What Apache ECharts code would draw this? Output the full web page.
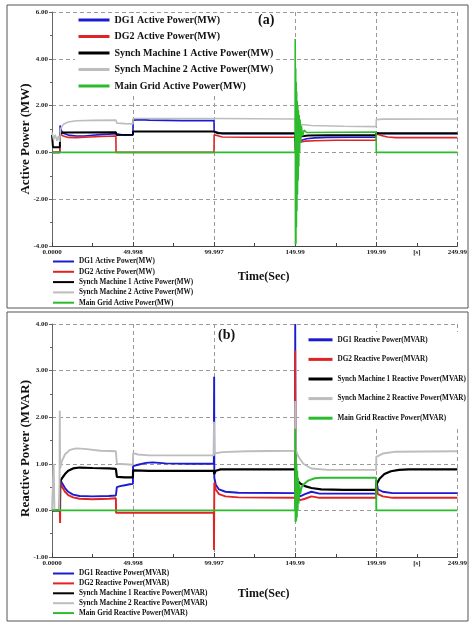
<!DOCTYPE html>
<html>
<head>
<meta charset="utf-8">
<script src="https://cdn.jsdelivr.net/npm/echarts@6/dist/echarts.min.js"></script>
<style>html,body{margin:0;padding:0;background:#fff}#c{width:470px;height:623px}</style>
</head>
<body>
<div id="c"></div>
<script>
// ---------- data ----------
const xTickLabels = {0:'0.0000',50:'49.998',100:'99.997',150:'149.99',200:'199.99',250:'249.99'};
const unitLabel = {225:'[s]'};

const namesA = ['DG1 Active Power(MW)','DG2 Active Power(MW)','Synch Machine 1 Active Power(MW)','Synch Machine 2 Active Power(MW)','Main Grid Active Power(MW)'];
const namesB = ['DG1 Reactive Power(MVAR)','DG2 Reactive Power(MVAR)','Synch Machine 1 Reactive Power(MVAR)','Synch Machine 2 Reactive Power(MVAR)','Main Grid Reactive Power(MVAR)'];

const dg1Active = [[0,0],[4.8,0],[5,1.15],[5.6,0.95],[7,0.82],[10,0.74],[15,0.7],[20,0.7],[25,0.73],[30,0.76],[35,0.78],[39.4,0.8],[40,0.72],[45,0.73],[49.9,0.74],[50,1.38],[55,1.4],[60,1.38],[70,1.37],[80,1.36],[99.9,1.36],[100,0.9],[101,0.82],[105,0.8],[149.9,0.8],[150,0.2],[150.5,0.4],[151,0.45],[153,0.5],[157,0.58],[162,0.62],[170,0.64],[185,0.65],[199.9,0.65],[200,0.85],[202,0.8],[210,0.8],[250,0.8]];
const dg2Active = [[0,0],[4.8,0],[5,0.78],[7,0.7],[10,0.64],[15,0.63],[20,0.65],[30,0.68],[39.4,0.7],[39.5,0],[99.9,0],[100,0.75],[101,0.7],[105,0.66],[120,0.65],[149.9,0.65],[150,0.1],[150.5,0.35],[152,0.42],[156,0.48],[162,0.5],[175,0.52],[199.9,0.52],[200,0.8],[203,0.72],[207,0.66],[212,0.63],[250,0.63]];
const sm1Active = [[0,0.75],[0.6,0.22],[4.8,0.22],[5,0.8],[7,0.85],[39.4,0.86],[40,0.74],[49.9,0.76],[50,0.9],[99.9,0.89],[100,0.85],[102,0.82],[149.9,0.82],[150,0.5],[151,0.62],[153,0.68],[158,0.72],[170,0.73],[199.9,0.73],[200,0.82],[250,0.82]];
const sm2Active = [[0,0.85],[1,0.55],[2,0.75],[3,0.5],[4,0.7],[4.8,0.45],[5.2,1.0],[7,1.2],[10,1.3],[15,1.35],[25,1.37],[39.4,1.38],[40,1.25],[45,1.23],[49.9,1.22],[50,1.45],[60,1.45],[99.9,1.45],[100,1.42],[149.9,1.43],[150,1.3],[152,1.2],[160,1.15],[180,1.12],[199.9,1.1],[200,1.4],[204,1.42],[250,1.43]];
const gridActive = [[0,0],[149.9,0],[150,4.85],[150.15,-3.95],[150.3,3.6],[150.45,-3.9],[150.6,3.0],[150.75,-3.2],[150.9,2.6],[151.05,-2.5],[151.2,2.2],[151.4,-1.8],[151.6,2.0],[151.8,-1.2],[152.0,1.8],[152.2,-0.6],[152.45,1.6],[152.7,0.0],[153.0,1.4],[153.4,0.4],[153.8,1.15],[154.5,0.7],[155.5,0.95],[157,0.85],[158,0.87],[199.9,0.87],[200,0],[250,0]];

const dg1Reactive = [[0,0],[4.8,0],[5,0.65],[6,0.6],[8,0.48],[10,0.4],[13,0.34],[17,0.31],[25,0.3],[35,0.31],[39.4,0.32],[40,0.5],[42,0.52],[45,0.54],[48,0.56],[49.9,0.57],[50,0.95],[53,0.98],[58,1.02],[62,1.03],[70,1.01],[85,1.0],[99.8,1.0],[100,2.87],[100.1,0.7],[101,0.55],[103,0.45],[107,0.4],[115,0.38],[149.9,0.37],[150,4.0],[150.2,0.1],[151,0.4],[153,0.3],[156,0.35],[160,0.4],[165,0.36],[199.9,0.36],[200,0.65],[201,0.45],[204,0.4],[210,0.37],[250,0.37]];
const dg2Reactive = [[0,0],[4.8,0],[5,-0.27],[5.2,0.6],[6,0.52],[8,0.4],[10,0.33],[13,0.28],[17,0.25],[25,0.24],[35,0.25],[39.4,0.26],[39.5,-0.05],[99.8,-0.05],[99.9,-0.85],[100.1,0.6],[101,0.45],[103,0.35],[107,0.3],[115,0.28],[149.9,0.27],[150,3.43],[150.2,0.05],[151,0.3],[153,0.22],[156,0.25],[160,0.3],[165,0.27],[199.9,0.27],[200,0.55],[201,0.35],[204,0.3],[210,0.27],[250,0.27]];
const sm1Reactive = [[0,0],[4.8,0],[5,0.62],[6,0.68],[8,0.78],[10,0.85],[13,0.9],[17,0.92],[25,0.91],[35,0.9],[39.4,0.89],[40,0.72],[45,0.71],[49.9,0.71],[50,0.86],[60,0.85],[99.8,0.85],[100,0.78],[101,0.85],[104,0.88],[149.9,0.88],[150,0.75],[151,0.65],[153,0.58],[156,0.52],[160,0.48],[166,0.45],[180,0.44],[199.9,0.44],[200,0.55],[202,0.68],[205,0.78],[209,0.84],[214,0.87],[220,0.88],[250,0.88]];
const sm2Reactive = [[0,0],[1,1.0],[1.5,0],[4.6,0],[4.8,2.14],[5,0.9],[6,1.05],[8,1.2],[11,1.3],[15,1.33],[20,1.32],[30,1.28],[39.4,1.27],[40,1.0],[45,0.99],[49.9,0.98],[50,1.23],[53,1.2],[60,1.18],[99.8,1.18],[99.9,1.9],[100.1,1.22],[105,1.25],[120,1.27],[149.9,1.28],[150,2.35],[150.3,1.3],[152,1.15],[155,1.0],[160,0.9],[170,0.87],[199.9,0.87],[200,1.15],[204,1.22],[212,1.26],[250,1.27]];
const gridReactive = [[0,0],[149.9,0],[150,1.75],[150.2,-0.25],[150.4,1.2],[150.6,-0.22],[150.8,1.0],[151.0,-0.15],[151.25,0.85],[151.5,0.0],[151.8,0.7],[152.1,0.15],[152.5,0.55],[153,0.35],[154,0.5],[155,0.55],[158,0.64],[162,0.69],[166,0.7],[199.9,0.7],[200,0],[250,0]];

// ---------- styling ----------
const colors = ['#1c1ccf','#e02424','#000000','#bdbdbd','#2cbb2c'];
const serif = "'Liberation Serif','Times New Roman',serif";
const gridDash = {show:true,lineStyle:{color:'#9a9a9a',type:[4,3],width:1}};

function xMain(gi, gap){
  return {type:'value',gridIndex:gi,min:0,max:250,interval:50,
    axisLine:{show:true,onZero:false,lineStyle:{color:'#444'}},
    axisTick:{show:true,inside:true,length:4,lineStyle:{color:'#444'}},
    minorTick:{show:true,splitNumber:2,length:3,lineStyle:{color:'#444'}},
    splitLine:gridDash,
    axisLabel:{margin:3,fontSize:7,fontWeight:'bold',fontFamily:serif,color:'#222',formatter:v=>xTickLabels[v]!==undefined?xTickLabels[v]:''},
    name:'Time(Sec)',nameLocation:'middle',nameGap:gap,
    nameTextStyle:{fontSize:12,fontWeight:'bold',fontFamily:serif,color:'#111',padding:[0,0,0,18]}};
}
function xUnit(gi){
  return {type:'value',gridIndex:gi,min:0,max:250,interval:25,position:'bottom',
    axisLine:{show:false},axisTick:{show:false},splitLine:{show:false},
    axisLabel:{margin:3,fontSize:7,fontWeight:'bold',fontFamily:serif,color:'#222',formatter:v=>unitLabel[v]||''}};
}
function yAx(gi,min,max,interval,name,gap,shift){
  return {type:'value',gridIndex:gi,min:min,max:max,interval:interval,
    axisLine:{show:true,onZero:false,lineStyle:{color:'#666'}},
    axisTick:{show:true,length:3,lineStyle:{color:'#666'}},
    minorTick:{show:true,splitNumber:2,length:2,lineStyle:{color:'#666'}},
    splitLine:gridDash,
    axisLabel:{margin:4,fontSize:7,fontWeight:'bold',fontFamily:serif,color:'#222',formatter:v=>v.toFixed(2)},
    name:name,nameLocation:'middle',nameGap:gap,nameMoveOverlap:false,
    nameTextStyle:{fontSize:13,fontWeight:'bold',fontFamily:serif,color:'#111',padding:[0,shift,0,0]}};
}
function mkSeries(names,datas,xi,yi,w){
  return names.map((n,i)=>({name:n,type:'line',xAxisIndex:xi,yAxisIndex:yi,data:datas[i],
    symbol:'none',animation:false,lineStyle:{color:colors[i],width:(i===2?w+0.3:w)},itemStyle:{color:colors[i]}}));
}
function legend(names,left,top,iw,ih,gap,fs,lw,pad,bg){
  return {data:names,orient:'vertical',left:left,top:top,height:100,padding:pad,itemWidth:iw,itemHeight:ih,itemGap:gap,
    backgroundColor:bg,selectedMode:false,lineStyle:{width:lw},itemStyle:{opacity:0,borderWidth:0},
    textStyle:{fontSize:fs,fontWeight:'bold',fontFamily:serif,color:'#111'}};
}

const chart = echarts.init(document.getElementById('c'),null,{renderer:'canvas'});
chart.setOption({
  backgroundColor:'#fff',
  animation:false,
  color:colors,
  title:[
    {text:'(a)',left:258,top:13,padding:0,textStyle:{fontSize:14,fontWeight:'bold',fontFamily:serif,color:'#111'}},
    {text:'(b)',left:218,top:328,padding:0,textStyle:{fontSize:14,fontWeight:'bold',fontFamily:serif,color:'#111'}}
  ],
  graphic:[
    {type:'rect',shape:{x:7,y:5,width:461,height:303},style:{fill:null,stroke:'#555',lineWidth:1},silent:true,z:10},
    {type:'rect',shape:{x:7,y:312,width:461,height:309},style:{fill:null,stroke:'#555',lineWidth:1},silent:true,z:10}
  ],
  grid:[
    {left:52,right:5,top:12,height:234},
    {left:52,right:5,top:324,height:233}
  ],
  xAxis:[xMain(0,25),xUnit(0),xMain(1,31),xUnit(1)],
  yAxis:[yAx(0,-4,6,2,'Active Power (MW)',20,20),yAx(1,-1,4,1,'Reactive Power (MVAR)',20,16)],
  legend:[
    legend(namesA,75,13,31,12,6.5,10,3,[2,2,2,2],'#fff'),
    legend(namesA,52,258,21,7,3.3,7.2,2,0,'transparent'),
    legend(namesB,299,332,24,12,10,7.2,3,[3,1,3,8],'#fff'),
    legend(namesB,52,570,21,7,2.9,7.2,2,0,'transparent')
  ],
  series:[].concat(
    mkSeries(namesA,[dg1Active,dg2Active,sm1Active,sm2Active,gridActive],0,0,1.6),
    mkSeries(namesB,[dg1Reactive,dg2Reactive,sm1Reactive,sm2Reactive,gridReactive],2,1,1.9)
  )
});
</script>
</body>
</html>
